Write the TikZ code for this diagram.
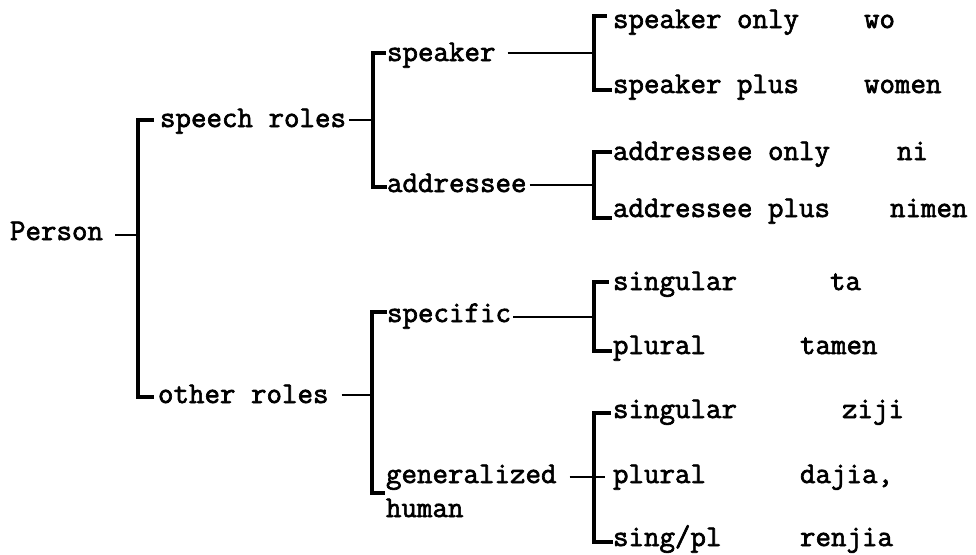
\documentclass[tikz,border=0pt]{standalone}
\usepackage{fontspec}
\usetikzlibrary{calc}
\newfontfamily\typer{Latin Modern Mono}[FakeBold=2.2]
\begin{document}
\begin{tikzpicture}[x=0.5pt,y=-0.5pt,
  lbl/.style={anchor=base west, inner sep=0pt, outer sep=0pt,
              font=\typer\fontsize{15.05}{18}\selectfont},
  br/.style={line width=1.6pt, line cap=rect},
  ln/.style={line width=1.3pt}]
\useasboundingbox[fill=white] (0,0) rectangle (976,554);

% bracket columns
\coordinate (bA) at (138,0);
\coordinate (bB) at (373,0);
\coordinate (bC) at (372,0);
\coordinate (bD) at (594,0);

% first and second levels
\node[lbl] (person) at (10,240)  {Person};
\node[lbl] (speech) at (160,127) {speech roles};
\node[lbl] (other)  at (158,403) {other roles};
\node[lbl] (spk)    at (387,61)  {speaker};
\node[lbl] (adr)    at (387,192) {addressee};
\node[lbl] (spec)   at (387,322) {specific};
\node[lbl] (gen)    at (386,483) {generalized};
\node[lbl] (hum)    at (386,517) {human};

% categories
\node[lbl] (l1) at (613,28)  {speaker only};
\node[lbl] (l2) at (613,93)  {speaker plus};
\node[lbl] (l3) at (613,160) {addressee only};
\node[lbl] (l4) at (613,217) {addressee plus};
\node[lbl] (l5) at (613,290) {singular};
\node[lbl] (l6) at (613,354) {plural};
\node[lbl] (l7) at (613,418) {singular};
\node[lbl] (l8) at (613,483) {plural};
\node[lbl] (l9) at (613,546) {sing/pl};

% pronoun forms
\node[lbl] (w1) at (864,28)  {wo};
\node[lbl] (w2) at (864,93)  {women};
\node[lbl] (w3) at (897,160) {ni};
\node[lbl] (w4) at (890,217) {nimen};
\node[lbl] (w5) at (830,290) {ta};
\node[lbl] (w6) at (800,354) {tamen};
\node[lbl] (w7) at (842,418) {ziji};
\node[lbl] (w8) at (800,483) {dajia,};
\node[lbl] (w9) at (800,546) {renjia};

% Person
\draw[ln] ($(person.base east)+(12,-5)$) -- ($(bA |- person.base east)+(0,-5)$);
\draw[br] ($(speech.base west)+(-8,-7)$) -- ($(bA |- speech.base west)+(0,-7)$)
       -- ($(bA |- other.base west)+(0,-6)$) -- ($(other.base west)+(-6,-6)$);

% speech roles
\draw[ln] ($(speech.base east)+(3,-7)$) -- ($(bB |- speech.base east)+(0,-7)$);
\draw[br] ($(spk.base west)+(-3,-8)$) -- ($(bB |- spk.base west)+(0,-8)$)
       -- ($(bB |- adr.base west)+(0,-5)$) -- ($(adr.base west)+(-2,-5)$);

% other roles
\draw[ln] ($(other.base east)+(13,-8)$) -- ($(bC |- other.base east)+(0,-8)$);
\draw[br] ($(spec.base west)+(-2,-10)$) -- ($(bC |- spec.base west)+(0,-10)$)
       -- ($(bC |- gen.base west)+(0,10)$) -- ($(gen.base west)+(-3,10)$);

% speaker
\draw[ln] ($(spk.base east)+(12,-8)$) -- ($(bD |- spk.base east)+(0,-8)$);
\draw[br] ($(l1.base west)+(-8,-12)$) -- ($(bD |- l1.base west)+(0,-12)$)
       -- ($(bD |- l2.base west)+(0,-3)$) -- ($(l2.base west)+(-3,-3)$);

% addressee
\draw[ln] ($(adr.base east)+(3,-7)$) -- ($(bD |- adr.base east)+(0,-7)$);
\draw[br] ($(l3.base west)+(-3,-8)$) -- ($(bD |- l3.base west)+(0,-8)$)
       -- ($(bD |- l4.base west)+(0,1)$) -- ($(l4.base west)+(-3,1)$);

% specific
\draw[ln] ($(spec.base east)+(2,-5)$) -- ($(bD |- spec.base east)+(0,-5)$);
\draw[br] ($(l5.base west)+(-6,-8)$) -- ($(bD |- l5.base west)+(0,-8)$)
       -- ($(bD |- l6.base west)+(0,-3)$) -- ($(l6.base west)+(-3,-3)$);

% generalized human
\draw[ln] ($(gen.base east)+(13,-6)$) -- ($(l8.base west)+(-8,-6)$);
\draw[br] ($(l7.base west)+(-4,-5)$) -- ($(bD |- l7.base west)+(0,-5)$)
       -- ($(bD |- l9.base west)+(0,-4)$) -- ($(l9.base west)+(-2,-4)$);
\end{tikzpicture}
\end{document}
